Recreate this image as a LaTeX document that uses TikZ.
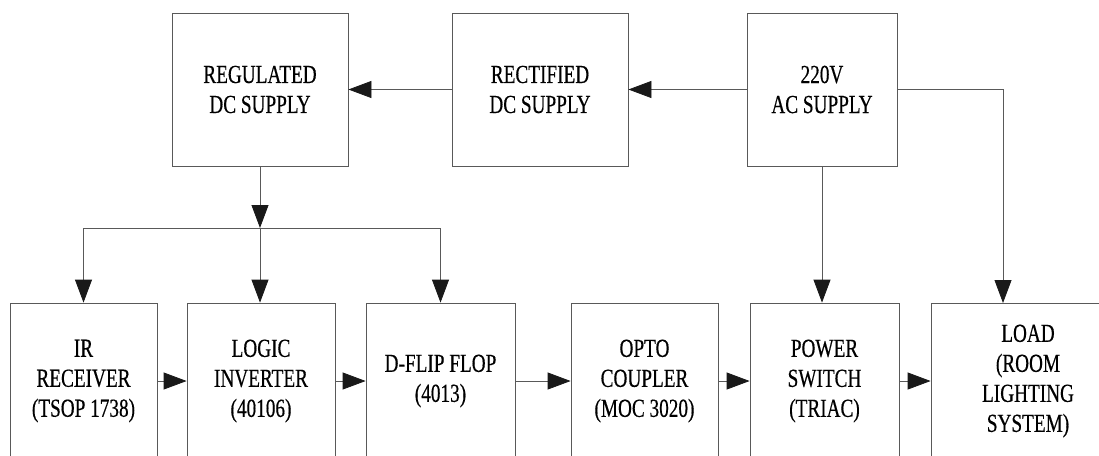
\documentclass[tikz,border=0pt]{standalone}
\usepackage{fontspec}
\setmainfont{Liberation Serif}[FakeStretch=0.74,FakeBold=0.4]
\usetikzlibrary{arrows.meta}
\begin{document}
\begin{tikzpicture}[x=1pt,y=-1pt,
  blk/.style={draw=black!65, line width=0.8pt, rectangle, inner sep=0pt,
    align=center, font=\fontsize{26}{30}\selectfont, text=black},
  topblk/.style={blk, minimum height=153pt},
  botblk/.style={blk, minimum height=156pt},
  link/.style={draw=black!65, line width=0.8pt},
  arr/.style={link, -{Triangle[length=23pt,width=17pt,color=black!90,fill=black!90]}}]
\path[fill=white, use as bounding box] (0,0) rectangle (1099,455);
\begin{scope}
\clip (0,0) rectangle (1099,455);
% supply chain (top row)
\node[topblk, minimum width=176pt] (reg)  at (260,89.5) {REGULATED\\DC SUPPLY};
\node[topblk, minimum width=176pt] (rect) at (540,89.5) {RECTIFIED\\DC SUPPLY};
\node[topblk, minimum width=150pt] (ac)   at (822,89.5) {220V\\AC SUPPLY};
% control and switching chain (bottom row)
\node[botblk, minimum width=147pt] (ir)   at (83.5,381)  {IR\\RECEIVER\\(TSOP 1738)};
\node[botblk, minimum width=148pt] (inv)  at (261,381)   {LOGIC\\INVERTER\\(40106)};
\node[botblk, minimum width=149pt] (dff)  at (440.5,381) {D-FLIP FLOP\\(4013)};
\node[botblk, minimum width=147pt] (opto) at (644.5,381) {OPTO\\COUPLER\\(MOC 3020)};
\node[botblk, minimum width=149pt] (psw)  at (824.5,381) {POWER\\SWITCH\\(TRIAC)};
\node[botblk, minimum width=194pt] (load) at (1028,381)  {LOAD\\(ROOM\\LIGHTING\\SYSTEM)};
\end{scope}
% distribution points
\coordinate (bus) at (260,228);
\coordinate (loadin) at (1003,303);
% supply connections
\draw[arr] (ac.west) -- (rect.east);
\draw[arr] (rect.west) -- (reg.east);
\draw[arr] (ac.east) -| (loadin);
\draw[arr] (ac.south) -- (ac.south |- psw.north);
\draw[arr] (reg.south) -- (bus);
\draw[arr] (bus) -| (ir.north);
\draw[arr] (bus) -| (dff.north);
\draw[arr] (bus) -- (bus |- inv.north);
% signal path
\draw[arr] (ir.east) -- (inv.west);
\draw[arr] (inv.east) -- (dff.west);
\draw[arr] (dff.east) -- (opto.west);
\draw[arr] (opto.east) -- (psw.west);
\draw[arr] (psw.east) -- (load.west);
\end{tikzpicture}
\end{document}
